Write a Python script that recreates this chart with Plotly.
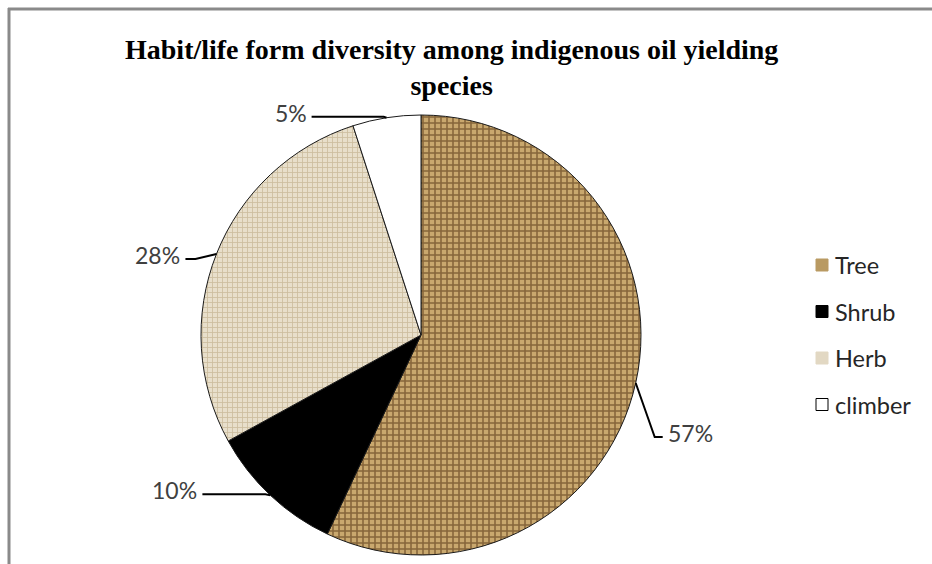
import math
import plotly.graph_objects as go

# ---- data ----
categories = ["Tree", "Shrub", "Herb", "climber"]
values = [57, 10, 28, 5]
label_texts = ["57%", "10%", "28%", "5%"]
title_text = "Habit/life form diversity among indigenous oil yielding<br>species"

# ---- style ----
W, H = 932, 564
CX, CY, R = 421, 335, 220
fills = {
    "Tree": dict(bg="#c9a86e", fg="#86653a", shape="+", size=6, solidity=0.45),
    "Shrub": dict(bg="#000000", fg="#000000", shape="", size=6, solidity=0.3),
    "Herb": dict(bg="#e8dfcb", fg="#cbbd9e", shape="+", size=5, solidity=0.3),
    "climber": dict(bg="#ffffff", fg="#ffffff", shape="", size=6, solidity=0.3),
}
swatch_colors = {"Tree": "#b99a62", "Shrub": "#000000", "Herb": "#e2d8c3", "climber": "#ffffff"}
# leader-line offsets (pixels): (dx1, dy1) to elbow, dx2 horizontal run, label side
leader = {
    "Tree": (19, 54, 8, "left"),
    "Shrub": (-5, -1, -63, "right"),
    "Herb": (-21, 5, -10, "right"),
    "climber": (-3, -1, -72, "right"),
}
label_font = dict(family="Lato, Carlito, sans-serif", size=23, color="#404040")


def px(x):
    return x / W


def py(y):
    return 1 - y / H


fig = go.Figure()
fig.add_trace(go.Pie(
    labels=categories,
    values=values,
    sort=False,
    direction="clockwise",
    rotation=0,
    textinfo="none",
    hoverinfo="label+percent",
    showlegend=False,
    marker=dict(
        colors=[fills[c]["bg"] for c in categories],
        line=dict(color="#1a1a1a", width=1),
        pattern=dict(
            shape=[fills[c]["shape"] for c in categories],
            fgcolor=[fills[c]["fg"] for c in categories],
            bgcolor=[fills[c]["bg"] for c in categories],
            size=[fills[c]["size"] for c in categories],
            solidity=[fills[c]["solidity"] for c in categories],
        ),
    ),
    domain=dict(x=[px(CX - R), px(CX + R)], y=[py(CY + R), py(CY - R)]),
))

shapes = []
annotations = []
total = sum(values)
cum = 0
for cat, val, txt in zip(categories, values, label_texts):
    mid = (cum + val / 2) / total * 2 * math.pi
    cum += val
    ax = CX + R * math.sin(mid)
    ay = CY - R * math.cos(mid)
    dx1, dy1, dx2, side = leader[cat]
    ex, ey = ax + dx1, ay + dy1
    tx, ty = ex + dx2, ey
    shapes.append(dict(
        type="path", xref="paper", yref="paper",
        path=f"M {px(ax)},{py(ay)} L {px(ex)},{py(ey)} L {px(tx)},{py(ty)}",
        line=dict(color="#000000", width=2),
    ))
    annotations.append(dict(
        x=px(tx + (3 if side == "left" else -3)), y=py(ty - 4),
        xref="paper", yref="paper", text=txt, showarrow=False,
        xanchor=side, yanchor="middle", font=label_font,
    ))

# legend (manual)
leg_x, leg_y0, leg_dy, sw = 816, 265, 46.5, 12
for i, cat in enumerate(categories):
    yc = leg_y0 + i * leg_dy
    shapes.append(dict(
        type="rect", xref="paper", yref="paper",
        x0=px(leg_x), x1=px(leg_x + sw), y0=py(yc + sw / 2), y1=py(yc - sw / 2),
        fillcolor=swatch_colors[cat],
        line=dict(color="#000000" if cat == "climber" else swatch_colors[cat], width=1),
    ))
    annotations.append(dict(
        x=px(leg_x + sw + 5), y=py(yc), xref="paper", yref="paper",
        text=cat, showarrow=False, xanchor="left", yanchor="middle",
        font=dict(family="Lato, Carlito, sans-serif", size=23.5, color="#262626"),
    ))

# title
annotations.append(dict(
    x=451 / W, y=py(68), xref="paper", yref="paper",
    text=f"<b>{title_text}</b>", showarrow=False,
    xanchor="center", yanchor="middle", align="center",
    font=dict(family="Liberation Serif, Times New Roman, serif", size=28, color="#000000"),
))

# frame
shapes.append(dict(type="line", xref="paper", yref="paper",
                   x0=px(8), x1=1, y0=py(9), y1=py(9),
                   line=dict(color="#8a8a8a", width=3)))
shapes.append(dict(type="line", xref="paper", yref="paper",
                   x0=px(9), x1=px(9), y0=py(8), y1=0,
                   line=dict(color="#8a8a8a", width=3)))

fig.update_layout(
    width=W, height=H,
    margin=dict(l=0, r=0, t=0, b=0),
    paper_bgcolor="white",
    plot_bgcolor="white",
    shapes=shapes,
    annotations=annotations,
)

fig.write_html("out.html")
